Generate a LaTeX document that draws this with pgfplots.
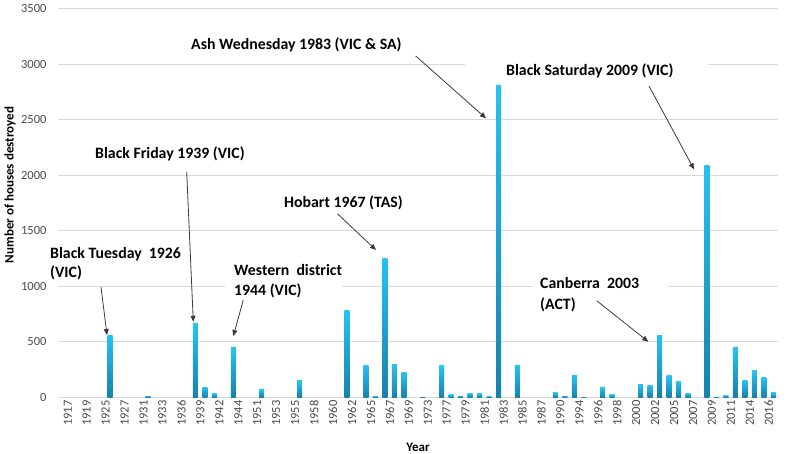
\documentclass[border=0pt]{standalone}
\usepackage{pgfplots}
\pgfplotsset{compat=1.18}
\usepackage{pgfplotstable}
\usepackage{fontspec}
\setmainfont{Carlito}
\usetikzlibrary{arrows.meta}
\definecolor{tickgrey}{HTML}{4A4A4A}
\definecolor{gridgrey}{HTML}{D9D9D9}
\definecolor{bartop}{HTML}{27C2F0}
\definecolor{barmid}{HTML}{1FB2E2}
\definecolor{barbot}{HTML}{1682AB}
\definecolor{arrowgrey}{HTML}{3A3A3A}
\pgfplotstableread{
i v
0 0
1 0
2 0
3 0
4 0
5 550
6 0
7 0
8 0
9 12
10 0
11 0
12 0
13 0
14 660
15 88
16 33
17 0
18 448
19 0
20 0
21 72
22 0
23 0
24 0
25 145
26 0
27 0
28 0
29 0
30 775
31 0
32 285
33 9
34 1250
35 291
36 220
37 0
38 5
39 0
40 280
41 20
42 12
43 33
44 33
45 9
46 2810
47 0
48 285
49 0
50 0
51 0
52 39
53 12
54 195
55 5
56 0
57 84
58 23
59 0
60 0
61 113
62 108
63 555
64 190
65 138
66 33
67 0
68 2090
69 5
70 15
71 444
72 150
73 236
74 175
75 39
}\housedata
\begin{document}
\begin{tikzpicture}[x=1pt,y=1pt]
\path[use as bounding box] (-58,-56) rectangle (742,397);
\begin{axis}[
  at={(0,0)}, anchor=south west, scale only axis,
  width=720pt, height=388.5pt,
  xmin=-0.5, xmax=75.5, ymin=0, ymax=3500,
  axis line style={draw=none},
  ytick={0,500,...,3500},
  ymajorgrids, major grid style={gridgrey, line width=0.8pt},
  major tick length=0pt,
  xtick={0,2,...,74},
  xticklabels={1917,1919,1925,1927,1931,1933,1936,1939,1942,1944,1951,1953,1955,1958,1960,1962,1965,1967,1969,1973,1977,1979,1981,1983,1985,1987,1990,1994,1996,1998,2000,2002,2005,2007,2009,2011,2014,2016},
  xticklabel style={rotate=90, anchor=east, yshift=-5pt, font=\fontsize{12.5}{12.5}\selectfont, text=tickgrey},
  yticklabel style={xshift=-8pt, font=\fontsize{12.5}{12.5}\selectfont, text=tickgrey},
  /pgf/number format/assume math mode=true,
  /pgf/number format/1000 sep={},
]
% one plot per category so that every bar gets its own gradient
\pgfplotsinvokeforeach{0,...,75}{
  \addplot[ybar, bar width=5pt, bar shift=0pt, draw=none, forget plot,
    top color=bartop, middle color=barmid, bottom color=barbot,
    x filter/.expression={x==#1 ? x : nan},
    y filter/.expression={y<=0 ? nan : y}]
    table[x=i, y=v] {\housedata};
}
\end{axis}
% white text-box areas hiding gridlines (as in the reference)
\fill[white] (407,329) rectangle (650,336);
\fill[white] (167,108) rectangle (284,114);
\fill[white] (475,108) rectangle (610,114);
% axis titles
\node[rotate=90, font=\bfseries\fontsize{13}{13}\selectfont] at (-48,212) {Number of houses destroyed};
\node[font=\bfseries\fontsize{13}{13}\selectfont] at (360,-50) {Year};
% annotations
\tikzset{ann/.style={anchor=base west, font=\bfseries\fontsize{15.8}{15.8}\selectfont, inner sep=1pt}}
\tikzset{arr/.style={draw=arrowgrey, line width=0.8pt, -{Triangle[length=6pt,width=5pt]}}}
\node[ann] at (-9,139) {Black Tuesday\ \ 1926};
\node[ann] at (-9,120) {(VIC)};
\draw[arr] (43,110) -- (49,62);
\node[ann] at (36,238.8) {Black Friday 1939 (VIC)};
\draw[arr] (128.7,225.3) -- (135.3,75.3);
\node[ann] at (175,121.8) {Western\ \ district};
\node[ann] at (175,101.8) {1944 (VIC)};
\draw[arr] (185.3,97) -- (175.3,61);
\node[ann] at (225,189.8) {Hobart\ 1967 (TAS)};
\draw[arr] (279.7,183) -- (318,147);
\node[ann] at (132,347.8) {Ash Wednesday 1983 (VIC \& SA)};
\draw[arr] (357.7,341) -- (428,278.7);
\node[ann] at (447,321.8) {Black Saturday 2009 (VIC)};
\draw[arr] (591,311) -- (636,227.7);
\node[ann] at (481,108.8) {Canberra\ \ 2003};
\node[ann] at (481,87.8) {(ACT)};
\draw[arr] (538.7,96.3) -- (590.3,55.3);
\end{tikzpicture}
\end{document}
